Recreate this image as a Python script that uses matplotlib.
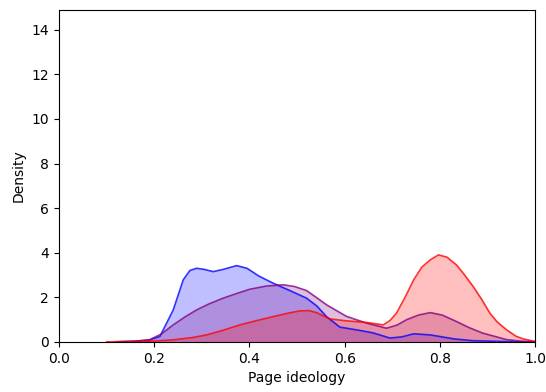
import numpy as np
import matplotlib.pyplot as plt

# density curves (page ideology vs density)
x_blue = [0.12, 0.16, 0.19, 0.212, 0.24, 0.261, 0.275, 0.289, 0.305, 0.324, 0.345,
          0.373, 0.395, 0.42, 0.45, 0.485, 0.52, 0.542, 0.562, 0.59, 0.632, 0.66,
          0.695, 0.72, 0.745, 0.78, 0.83, 0.87, 0.92, 0.96, 1.0]
y_blue = [0.0, 0.02, 0.08, 0.24, 1.43, 2.78, 3.2, 3.3, 3.25, 3.15, 3.25,
          3.42, 3.3, 2.95, 2.63, 2.3, 1.96, 1.6, 1.13, 0.66, 0.51, 0.4,
          0.17, 0.22, 0.36, 0.31, 0.13, 0.05, 0.02, 0.0, 0.0]

x_purple = [0.12, 0.16, 0.19, 0.215, 0.24, 0.265, 0.289, 0.315, 0.345, 0.375, 0.401,
            0.435, 0.471, 0.495, 0.52, 0.54, 0.562, 0.604, 0.646, 0.688, 0.71,
            0.73, 0.755, 0.78, 0.805, 0.835, 0.86, 0.89, 0.94, 0.97, 1.0]
y_purple = [0.0, 0.03, 0.09, 0.35, 0.76, 1.12, 1.43, 1.7, 1.96, 2.18, 2.36,
            2.5, 2.56, 2.48, 2.3, 2.0, 1.66, 1.14, 0.84, 0.61, 0.75,
            0.99, 1.2, 1.31, 1.2, 0.91, 0.65, 0.39, 0.1, 0.03, 0.0]

x_red = [0.1, 0.15, 0.2, 0.24, 0.28, 0.31, 0.345, 0.38, 0.415, 0.45, 0.48, 0.506,
         0.525, 0.541, 0.569, 0.604, 0.646, 0.681, 0.695, 0.709, 0.727, 0.745,
         0.762, 0.78, 0.797, 0.815, 0.835, 0.852, 0.87, 0.888, 0.905, 0.92, 0.94,
         0.96, 0.975, 1.0]
y_red = [0.0, 0.01, 0.03, 0.09, 0.19, 0.31, 0.52, 0.76, 0.95, 1.13, 1.28, 1.39,
         1.4, 1.31, 1.03, 0.94, 0.87, 0.76, 0.95, 1.29, 2.0, 2.78,
         3.35, 3.68, 3.9, 3.8, 3.45, 3.0, 2.48, 1.9, 1.29, 0.9, 0.54,
         0.25, 0.13, 0.02]

series = [(x_blue, y_blue, 'blue'), (x_purple, y_purple, 'purple'), (x_red, y_red, 'red')]

fig = plt.figure(figsize=(5.46, 3.92), dpi=100)
ax = fig.add_axes([0.108, 0.128, 0.872, 0.847])

for xs, ys, c in series:
    ax.fill_between(xs, ys, color=c, alpha=0.25, linewidth=0)
    ax.plot(xs, ys, color=c, linewidth=1.2, alpha=0.8)

ax.set_xlim(0, 1)
ax.set_ylim(0, 14.9)
ax.set_yticks(np.arange(0, 15, 2))
ax.set_xlabel('Page ideology')
ax.set_ylabel('Density')

plt.savefig('out.png', dpi=100)
